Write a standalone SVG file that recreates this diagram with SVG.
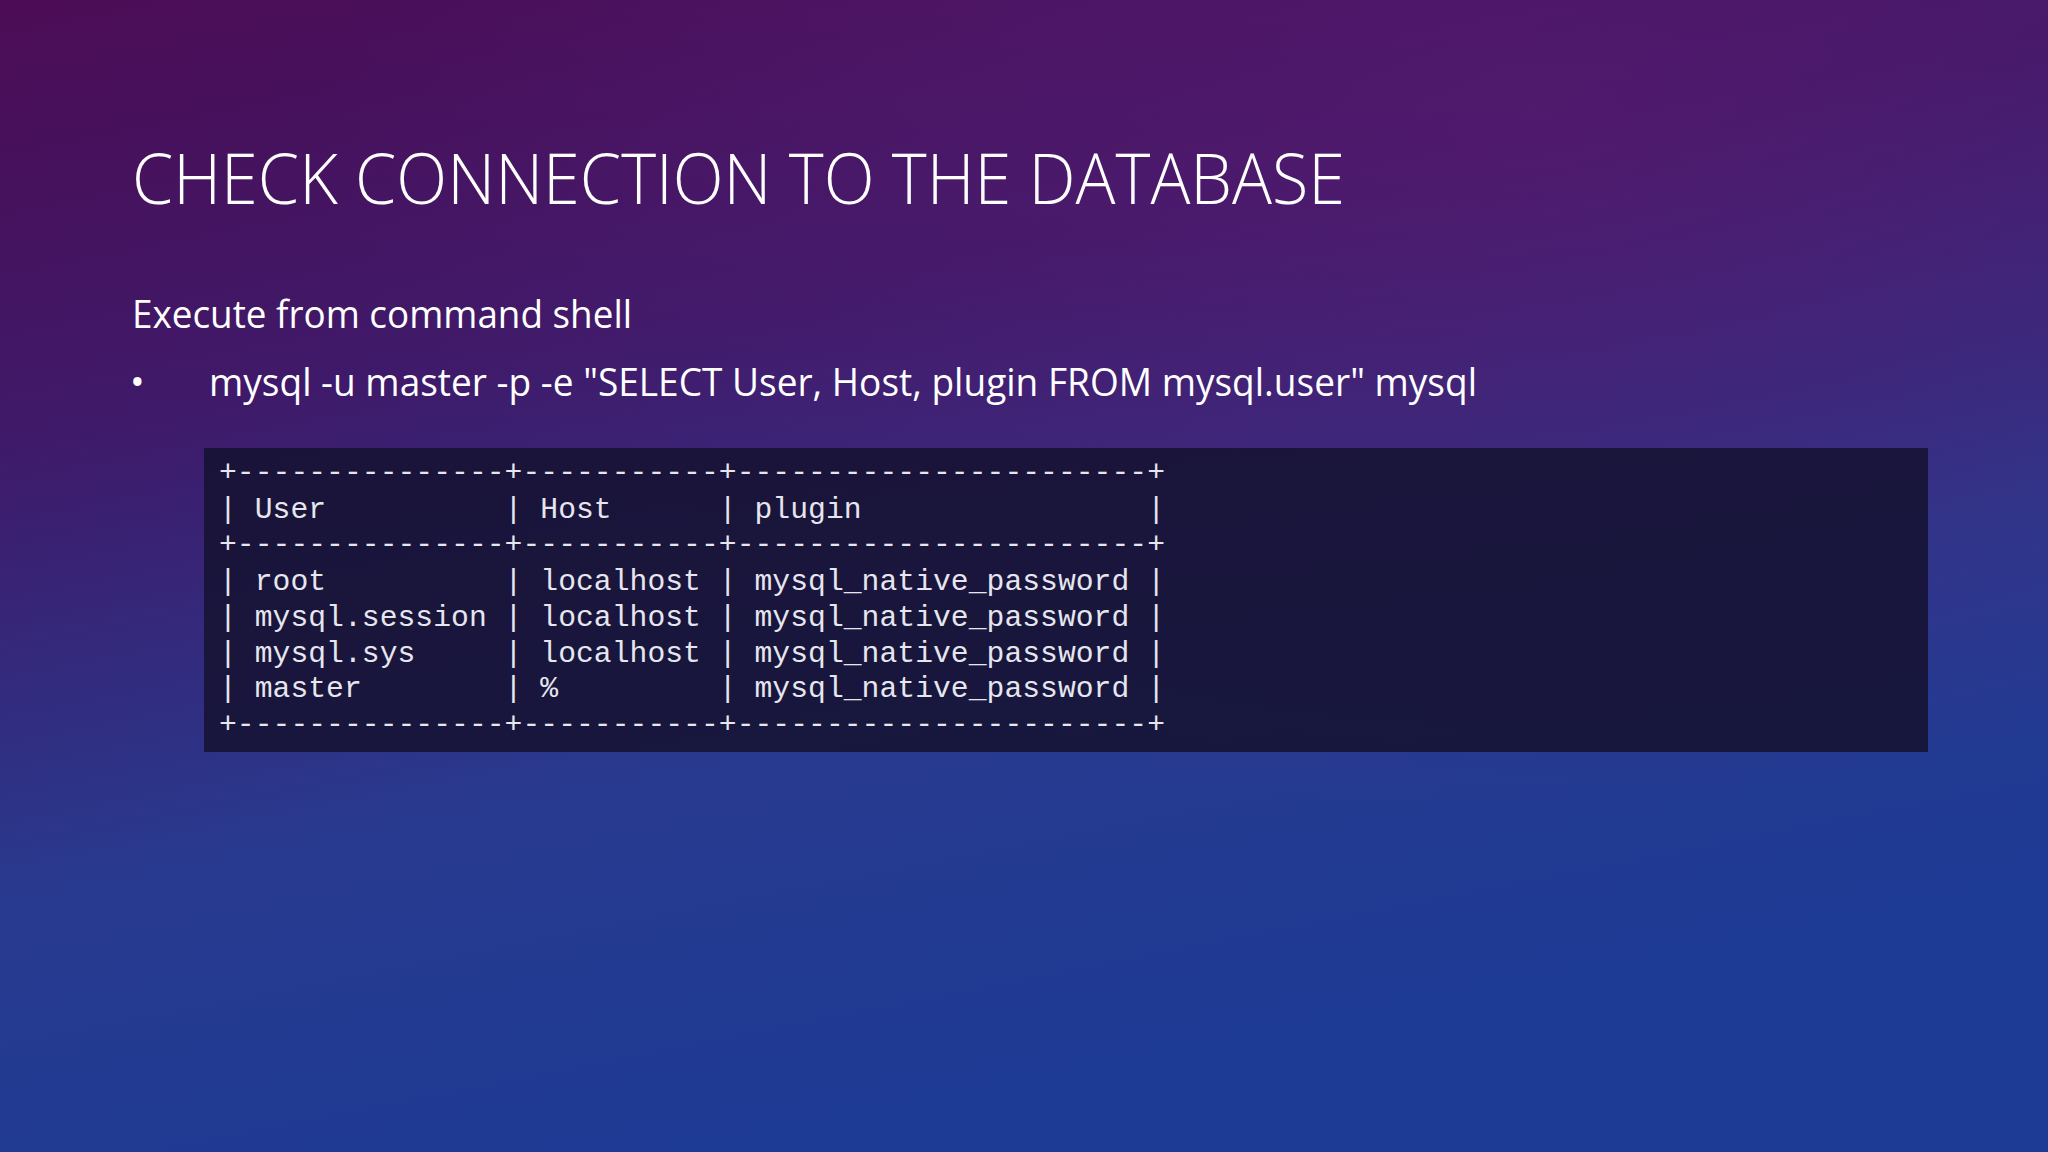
<svg xmlns="http://www.w3.org/2000/svg" width="2048" height="1152" viewBox="0 0 2048 1152">
<defs>
<linearGradient id="bg" x1="0" y1="0" x2="0.35" y2="1">
<stop offset="0" stop-color="#4c0c55"/>
<stop offset="0.35" stop-color="#3f1a6a"/>
<stop offset="0.7" stop-color="#283a8f"/>
<stop offset="1" stop-color="#1d3a94"/>
</linearGradient>
<radialGradient id="glow" cx="0.75" cy="0.1" r="0.6">
<stop offset="0" stop-color="#5a1a70" stop-opacity="0.6"/>
<stop offset="1" stop-color="#5a1a70" stop-opacity="0"/>
</radialGradient>
<style>
.t{fill:#ffffff;font-family:"Open Sans","Liberation Sans",sans-serif;}
.m{fill:#e6e6ee;font-family:"Liberation Mono","DejaVu Sans Mono",monospace;font-size:29.7px;white-space:pre;}
</style>
</defs>
<rect width="2048" height="1152" fill="url(#bg)"/>
<rect width="2048" height="1152" fill="url(#glow)"/>
<g id="title"><text class="t" x="132" y="204" font-size="70" font-weight="300" textLength="1213" lengthAdjust="spacingAndGlyphs">CHECK CONNECTION TO THE DATABASE</text></g>
<g id="subtitle"><text class="t" x="132" y="328" font-size="39" textLength="500" lengthAdjust="spacingAndGlyphs">Execute from command shell</text></g>
<g id="bullet"><text class="t" x="130" y="396" font-size="39">•</text>
<text class="t" x="209" y="396" font-size="39" textLength="1268" lengthAdjust="spacingAndGlyphs">mysql -u master -p -e "SELECT User, Host, plugin FROM mysql.user" mysql</text></g>
<g id="table">
<rect x="204" y="448" width="1724" height="304" fill="#161232" opacity="0.88"/>
<text class="m" x="219" y="481" textLength="946">+---------------+-----------+-----------------------+</text>
<text class="m" x="219" y="518" textLength="946">| User          | Host      | plugin                |</text>
<text class="m" x="219" y="553" textLength="946">+---------------+-----------+-----------------------+</text>
<text class="m" x="219" y="590" textLength="946">| root          | localhost | mysql_native_password |</text>
<text class="m" x="219" y="626" textLength="946">| mysql.session | localhost | mysql_native_password |</text>
<text class="m" x="219" y="662" textLength="946">| mysql.sys     | localhost | mysql_native_password |</text>
<text class="m" x="219" y="697" textLength="946">| master        | %         | mysql_native_password |</text>
<text class="m" x="219" y="733" textLength="946">+---------------+-----------+-----------------------+</text>
</g>
</svg>
